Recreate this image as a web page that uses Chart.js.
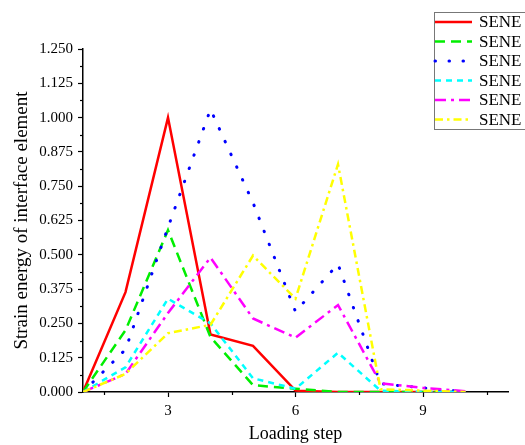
<!DOCTYPE html>
<html>
<head>
<meta charset="utf-8">
<script src="https://cdn.jsdelivr.net/npm/chart.js@4"></script>
<style>
  html, body { margin: 0; padding: 0; background: #fff; }
  #wrap { width: 525px; height: 445px; }
</style>
</head>
<body>
<div id="wrap"><canvas id="chart" width="525" height="445"></canvas></div>
<script>
// loading steps (x)
const steps = [1, 2, 3, 4, 5, 6, 7, 8, 9, 10];

// strain energy of each series
const redValues     = [0, 0.364, 1.000, 0.210, 0.168, 0.005, 0, 0, 0, 0];
const greenValues   = [0, 0.225, 0.590, 0.200, 0.025, 0.012, 0, 0, 0, 0];
const blueValues    = [0, 0.155, 0.600, 1.030, 0.690, 0.293, 0.466, 0.030, 0.015, 0];
const cyanValues    = [0, 0.090, 0.340, 0.250, 0.050, 0.012, 0.143, 0.005, 0, 0];
const magentaValues = [0, 0.066, 0.288, 0.490, 0.268, 0.198, 0.317, 0.032, 0.015, 0.003];
const yellowValues  = [0, 0.066, 0.214, 0.245, 0.497, 0.340, 0.830, 0.010, 0.005, 0];

const seriesLabels = ['SENE', 'SENE', 'SENE', 'SENE', 'SENE', 'SENE'];
const yTicks = [0, 0.125, 0.25, 0.375, 0.5, 0.625, 0.75, 0.875, 1.0, 1.125, 1.25];
const xTicks = [3, 6, 9];
const yMinorTicks = [0.0625, 0.1875, 0.3125, 0.4375, 0.5625, 0.6875, 0.8125, 0.9375, 1.0625, 1.1875];
const xMinorTicks = [1.5, 4.5, 7.5, 10.5];

const serif = "'Liberation Serif', 'DejaVu Serif', serif";

const styles = [
  { color: '#ff0000', dash: [], cap: 'butt' },
  { color: '#00ee00', dash: [10, 6], cap: 'butt' },
  { color: '#0000ff', dash: [0.5, 13.5], cap: 'round' },
  { color: '#00ffff', dash: [6, 5], cap: 'butt' },
  { color: '#ff00ff', dash: [11, 5, 3, 5], cap: 'butt' },
  { color: '#ffff00', dash: [8, 4, 2.5, 4], cap: 'butt' }
];

const allValues = [redValues, greenValues, blueValues, cyanValues, magentaValues, yellowValues];

const datasets = allValues.map((vals, i) => ({
  label: seriesLabels[i],
  data: steps.map((s, k) => ({ x: s, y: vals[k] })),
  borderColor: styles[i].color,
  backgroundColor: styles[i].color,
  borderDash: styles[i].dash,
  borderCapStyle: styles[i].cap,
  borderWidth: i === 2 ? 3 : 2.5,
  pointRadius: 0,
  tension: 0,
  fill: false,
  order: allValues.length - i
}));

// minor ticks + legend box, drawn by hand
const extrasPlugin = {
  id: 'extras',
  afterDraw(chart) {
    const { ctx, scales: { x, y } } = chart;
    ctx.save();
    ctx.strokeStyle = '#000';
    ctx.lineWidth = 1.2;
    ctx.setLineDash([]);
    yMinorTicks.forEach(v => {
      const py = Math.round(y.getPixelForValue(v)) + 0.5;
      ctx.beginPath();
      ctx.moveTo(x.left - 3, py);
      ctx.lineTo(x.left, py);
      ctx.stroke();
    });
    xMinorTicks.forEach(v => {
      const px = Math.round(x.getPixelForValue(v)) + 0.5;
      ctx.beginPath();
      ctx.moveTo(px, y.bottom);
      ctx.lineTo(px, y.bottom + 3);
      ctx.stroke();
    });

    // legend
    ctx.strokeStyle = '#777';
    ctx.lineWidth = 1;
    ctx.strokeRect(434.5, 12.5, 110, 117);
    ctx.font = '17px ' + serif;
    ctx.textBaseline = 'middle';
    ctx.fillStyle = '#000';
    chart.data.datasets.forEach((ds, i) => {
      const ly = 22 + i * 19.5;
      ctx.strokeStyle = ds.borderColor;
      ctx.lineWidth = ds.borderWidth;
      ctx.lineCap = ds.borderCapStyle;
      ctx.setLineDash(ds.borderDash);
      ctx.beginPath();
      ctx.moveTo(435, ly);
      ctx.lineTo(472, ly);
      ctx.stroke();
      ctx.setLineDash([]);
      ctx.fillText(ds.label, 479, ly + 1);
    });
    ctx.restore();
  }
};

new Chart(document.getElementById('chart'), {
  type: 'line',
  data: { datasets },
  options: {
    responsive: false,
    animation: false,
    events: [],
    layout: { padding: { top: 49, right: 17, left: 0, bottom: 0 } },
    plugins: {
      legend: { display: false },
      tooltip: { enabled: false }
    },
    scales: {
      x: {
        type: 'linear',
        min: 1,
        max: 11,
        afterBuildTicks: scale => { scale.ticks = xTicks.map(v => ({ value: v })); },
        afterFit: scale => { scale.height = 53; },
        border: { color: '#000', width: 1.5 },
        grid: { drawOnChartArea: false, drawTicks: true, tickLength: 5, color: '#000', tickWidth: 1.2 },
        ticks: { color: '#000', padding: 5, font: { family: serif, size: 15 }, maxRotation: 0 },
        title: { display: true, text: 'Loading step', color: '#000', font: { family: serif, size: 18 }, padding: { top: 0, bottom: 0 } }
      },
      y: {
        min: 0,
        max: 1.25,
        afterBuildTicks: scale => { scale.ticks = yTicks.map(v => ({ value: v })); },
        afterFit: scale => { scale.width = 83; },
        border: { color: '#000', width: 1.5 },
        grid: { drawOnChartArea: false, drawTicks: true, tickLength: 5, color: '#000', tickWidth: 1.2 },
        ticks: { color: '#000', padding: 5, font: { family: serif, size: 15 }, callback: v => v.toFixed(3) },
        title: { display: true, text: 'Strain energy of interface element', color: '#000', font: { family: serif, size: 19 }, padding: { top: 11, bottom: 0 } }
      }
    }
  },
  plugins: [extrasPlugin]
});
</script>
</body>
</html>
